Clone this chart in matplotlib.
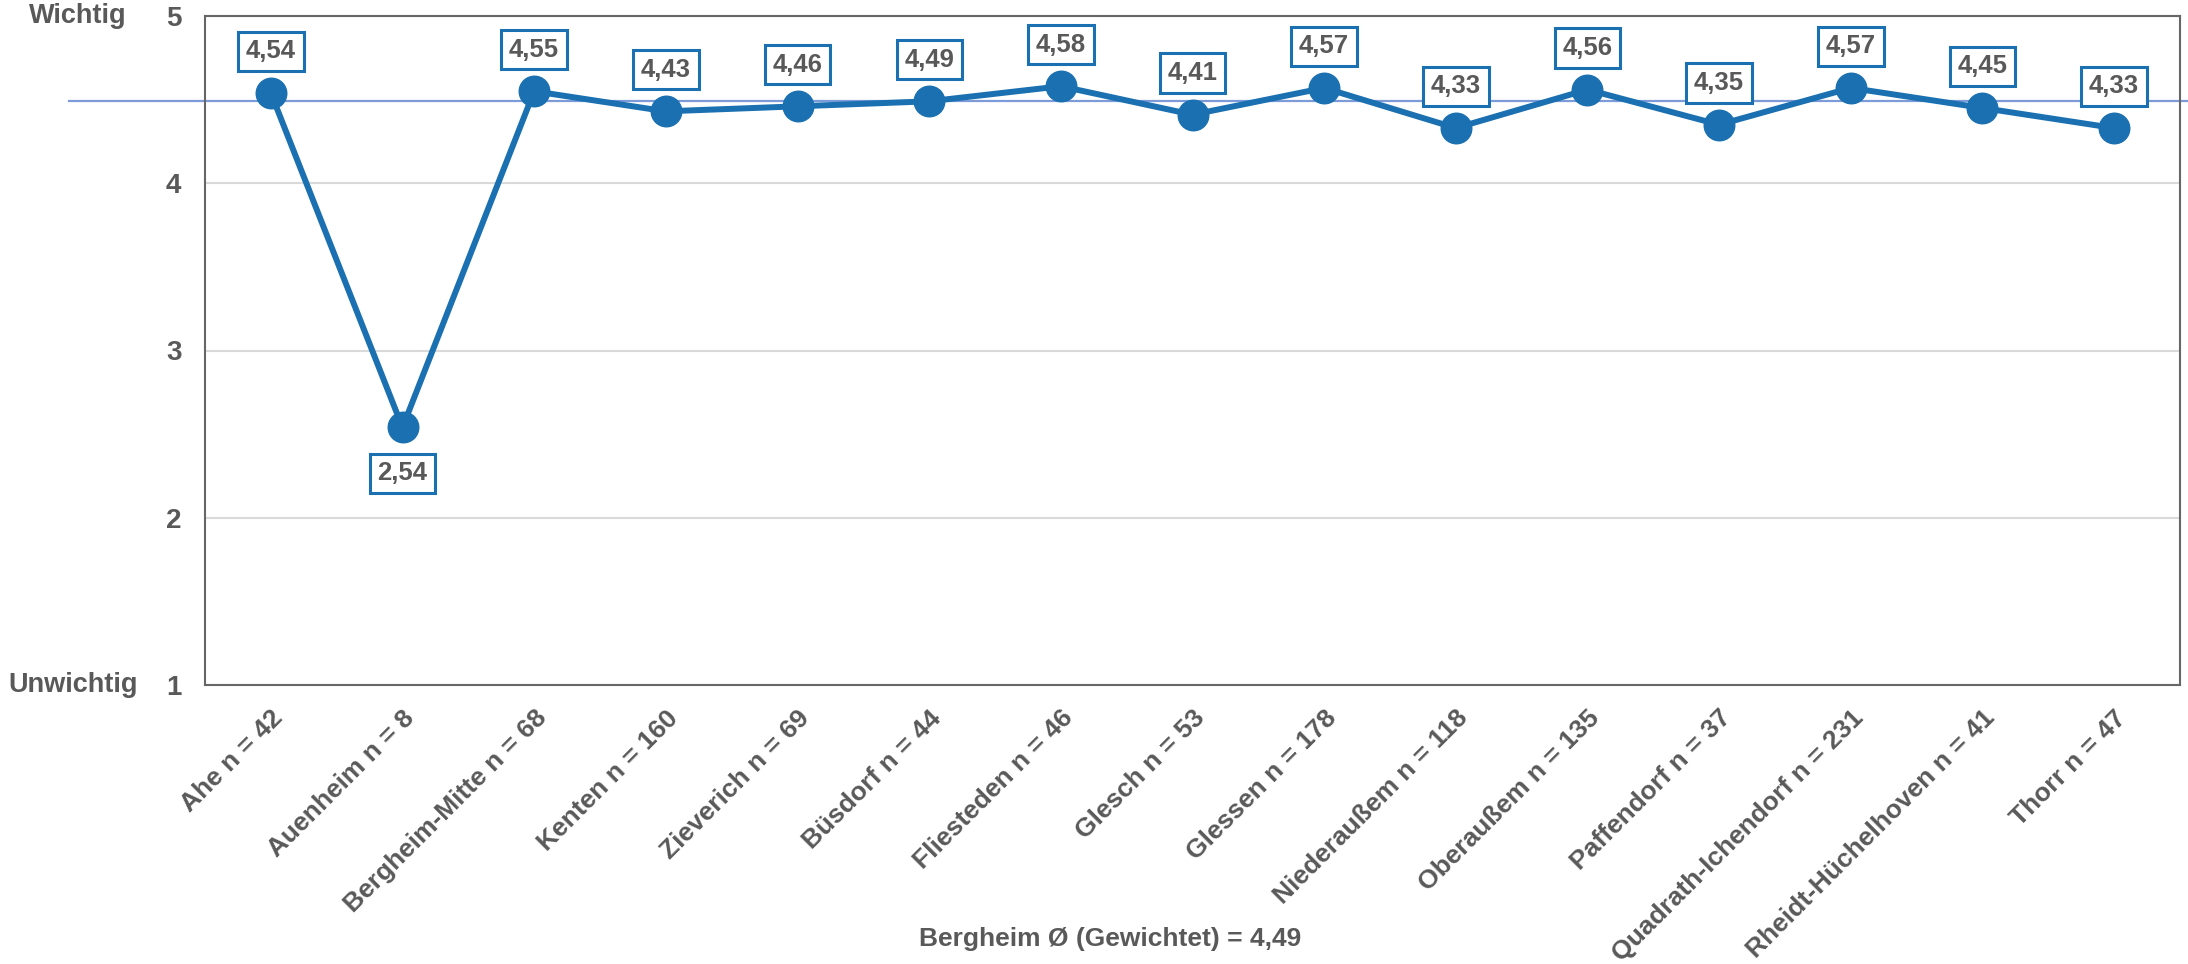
import matplotlib
matplotlib.use('Agg')
import matplotlib.pyplot as plt

plt.rcParams['font.family'] = ['Liberation Sans', 'DejaVu Sans']

categories = ['Ahe n = 42', 'Auenheim n = 8', 'Bergheim-Mitte n = 68', 'Kenten n = 160',
              'Zieverich n = 69', 'Büsdorf n = 44', 'Fliesteden n = 46', 'Glesch n = 53',
              'Glessen n = 178', 'Niederaußem n = 118', 'Oberaußem n = 135',
              'Paffendorf n = 37', 'Quadrath-Ichendorf n = 231', 'Rheidt-Hüchelhoven n = 41',
              'Thorr n = 47']
values = [4.54, 2.54, 4.55, 4.43, 4.46, 4.49, 4.58, 4.41, 4.57, 4.33, 4.56, 4.35, 4.57, 4.45, 4.33]
average = 4.49
average_label = 'Bergheim Ø (Gewichtet) = 4,49'

blue = '#1a70b0'
grey = '#595959'

fig = plt.figure(figsize=(21.88, 9.64), dpi=100)
ax = fig.add_axes([205 / 2188, 1 - 685 / 964, 1975 / 2188, 669 / 964])

x = list(range(len(categories)))
ax.plot(x, values, color=blue, lw=4.3, marker='o', markersize=22, zorder=3)

# Durchschnittslinie, reicht links ueber die Achse hinaus
ax.axhline(average, xmin=-0.069, xmax=1.01, color='#7d9bd8', lw=1.6, clip_on=False, zorder=2)

for i, v in enumerate(values):
    label = f'{v:.2f}'.replace('.', ',')
    below = v < average - 1
    ax.annotate(label, (i, v), xytext=(0, -33 if below else 30), textcoords='offset points',
                ha='center', va='center', fontsize=18.5, fontweight='bold', color=grey,
                bbox=dict(boxstyle='square,pad=0.3', fc='white', ec=blue, lw=2.2), zorder=4)

ax.set_xlim(-0.5, len(categories) - 0.5)
ax.set_ylim(1, 5)
ax.set_yticks([1, 2, 3, 4, 5])
ax.set_yticklabels(['1', '2', '3', '4', '5'], fontsize=20, fontweight='bold', color=grey)
ax.set_xticks(x)
ax.set_xticklabels(categories, rotation=45, ha='right', rotation_mode='anchor',
                   fontsize=19, fontweight='bold', color=grey)
ax.tick_params(axis='both', length=0)
ax.tick_params(axis='y', pad=17)
ax.tick_params(axis='x', pad=15)
ax.grid(axis='y', color='#d9d9d9', lw=1.5)
ax.set_axisbelow(True)
for s in ax.spines.values():
    s.set_color('#666666')
    s.set_linewidth(1.5)

ax.text(-0.0395, 1.0, 'Wichtig', transform=ax.transAxes, ha='right', va='center',
        fontsize=19.5, fontweight='bold', color=grey)
ax.text(-0.034, 0.0, 'Unwichtig', transform=ax.transAxes, ha='right', va='center',
        fontsize=19.5, fontweight='bold', color=grey)

fig.text(1110 / 2188, 1 - 939 / 964, average_label, ha='center', va='center',
         fontsize=19, fontweight='bold', color=grey)

fig.savefig('out.png', dpi=100)
